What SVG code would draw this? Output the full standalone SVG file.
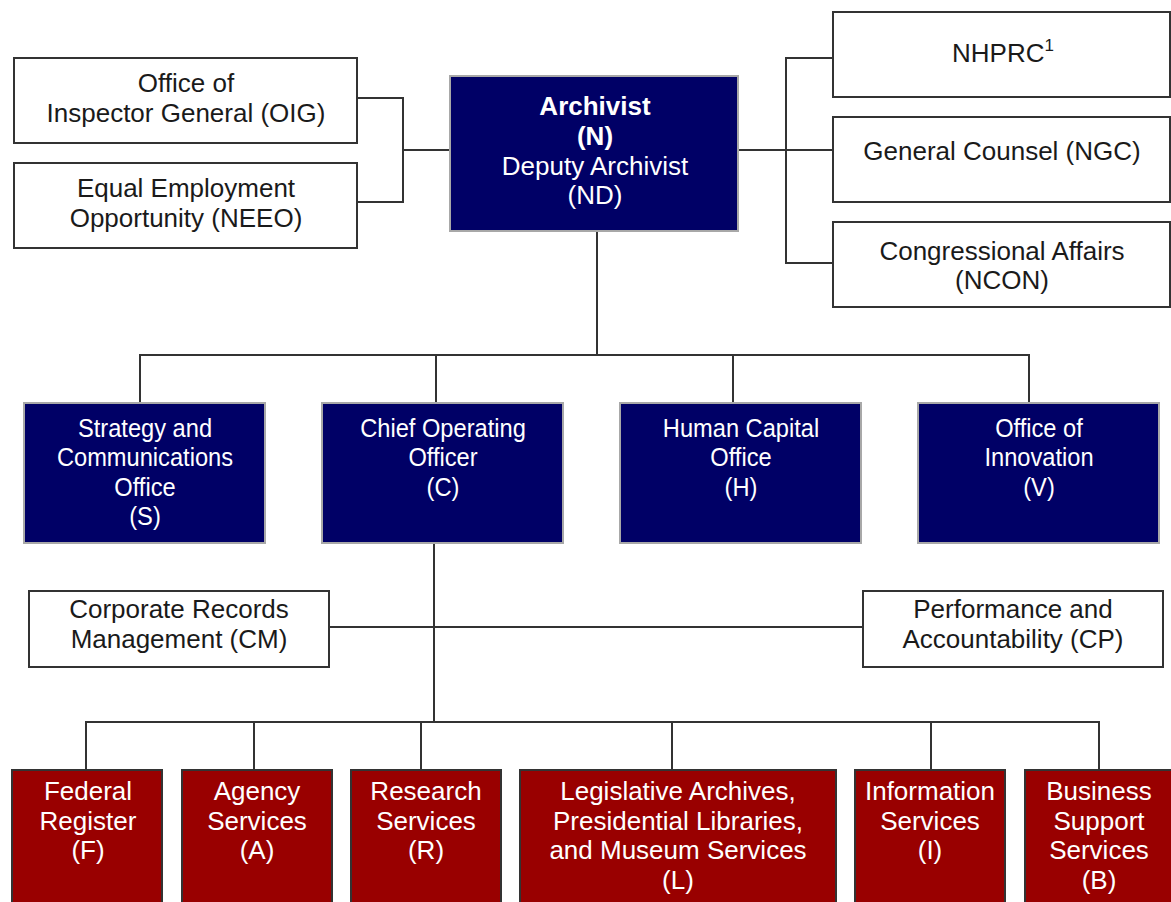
<svg xmlns="http://www.w3.org/2000/svg" width="1171" height="902" viewBox="0 0 1171 902">
<style>
.w{fill:#fff;stroke:#333;stroke-width:2}
.n{fill:#000066;stroke:#a8a8a8;stroke-width:2}
.r{fill:#990000;stroke:#333;stroke-width:2}
.c{fill:none;stroke:#333;stroke-width:2}
text{font-family:"Liberation Sans",Arial,sans-serif;font-size:26px;text-anchor:middle}
.tb{fill:#1a1a1a}
.tw{fill:#fff}
.b{font-weight:bold}
</style>
<rect width="1171" height="902" fill="#fff"/>
<g id="connectors">
<polyline class="c" points="357,98 403,98 403,202 357,202"/>
<line class="c" x1="403" y1="150" x2="450" y2="150"/>
<line class="c" x1="738" y1="150" x2="833" y2="150"/>
<polyline class="c" points="833,58 786,58 786,263 833,263"/>
<line class="c" x1="597" y1="231" x2="597" y2="355"/>
<polyline class="c" points="140,403 140,355 1029,355 1029,403"/>
<line class="c" x1="436" y1="355" x2="436" y2="403"/>
<line class="c" x1="733" y1="355" x2="733" y2="403"/>
<line class="c" x1="434" y1="543" x2="434" y2="722"/>
<line class="c" x1="329" y1="627" x2="863" y2="627"/>
<polyline class="c" points="86,770 86,722 1099,722 1099,770"/>
<line class="c" x1="254" y1="722" x2="254" y2="770"/>
<line class="c" x1="421" y1="722" x2="421" y2="770"/>
<line class="c" x1="672" y1="722" x2="672" y2="770"/>
<line class="c" x1="931" y1="722" x2="931" y2="770"/>
</g>
<g id="oig">
<rect class="w" x="14" y="58" width="343" height="85"/>
<text class="tb" x="186" y="92">Office of</text>
<text class="tb" x="186" y="122">Inspector General (OIG)</text>
</g>
<g id="neeo">
<rect class="w" x="14" y="163" width="343" height="85"/>
<text class="tb" x="186" y="197">Equal Employment</text>
<text class="tb" x="186" y="227">Opportunity (NEEO)</text>
</g>
<g id="archivist">
<rect class="n" x="450" y="76" width="288" height="155"/>
<text class="tw b" x="595" y="115">Archivist</text>
<text class="tw b" x="595" y="145">(N)</text>
<text class="tw" x="595" y="175">Deputy Archivist</text>
<text class="tw" x="595" y="204">(ND)</text>
</g>
<g id="nhprc">
<rect class="w" x="833" y="12" width="337" height="85"/>
<text class="tb" x="1003" y="62">NHPRC<tspan font-size="17" dy="-11">1</tspan></text>
</g>
<g id="ngc">
<rect class="w" x="833" y="117" width="337" height="85"/>
<text class="tb" x="1002" y="160">General Counsel (NGC)</text>
</g>
<g id="ncon">
<rect class="w" x="833" y="222" width="337" height="85"/>
<text class="tb" x="1002" y="260">Congressional Affairs</text>
<text class="tb" x="1002" y="289">(NCON)</text>
</g>
<g id="strategy">
<rect class="n" x="24" y="403" width="241" height="140"/>
<g transform="translate(145,0) scale(0.91,1)">
<text class="tw" x="0" y="437">Strategy and</text>
<text class="tw" x="0" y="466.5">Communications</text>
<text class="tw" x="0" y="496">Office</text>
<text class="tw" x="0" y="525.5">(S)</text>
</g>
</g>
<g id="coo">
<rect class="n" x="322" y="403" width="241" height="140"/>
<g transform="translate(443,0) scale(0.91,1)">
<text class="tw" x="0" y="437">Chief Operating</text>
<text class="tw" x="0" y="466.5">Officer</text>
<text class="tw" x="0" y="496">(C)</text>
</g>
</g>
<g id="hc">
<rect class="n" x="620" y="403" width="241" height="140"/>
<g transform="translate(741,0) scale(0.91,1)">
<text class="tw" x="0" y="437">Human Capital</text>
<text class="tw" x="0" y="466.5">Office</text>
<text class="tw" x="0" y="496">(H)</text>
</g>
</g>
<g id="innovation">
<rect class="n" x="918" y="403" width="241" height="140"/>
<g transform="translate(1039,0) scale(0.91,1)">
<text class="tw" x="0" y="437">Office of</text>
<text class="tw" x="0" y="466.5">Innovation</text>
<text class="tw" x="0" y="496">(V)</text>
</g>
</g>
<g id="cm">
<rect class="w" x="29" y="591" width="300" height="76"/>
<text class="tb" x="179" y="618">Corporate Records</text>
<text class="tb" x="179" y="647.5">Management (CM)</text>
</g>
<g id="cp">
<rect class="w" x="863" y="591" width="300" height="76"/>
<text class="tb" x="1013" y="618">Performance and</text>
<text class="tb" x="1013" y="648">Accountability (CP)</text>
</g>
<g id="federal">
<rect class="r" x="12" y="770" width="150" height="150"/>
<text class="tw" x="88" y="800">Federal</text>
<text class="tw" x="88" y="829.5">Register</text>
<text class="tw" x="88" y="859">(F)</text>
</g>
<g id="agency">
<rect class="r" x="182" y="770" width="150" height="150"/>
<text class="tw" x="257" y="800">Agency</text>
<text class="tw" x="257" y="829.5">Services</text>
<text class="tw" x="257" y="859">(A)</text>
</g>
<g id="research">
<rect class="r" x="351" y="770" width="150" height="150"/>
<text class="tw" x="426" y="800">Research</text>
<text class="tw" x="426" y="829.5">Services</text>
<text class="tw" x="426" y="859">(R)</text>
</g>
<g id="legislative">
<rect class="r" x="520" y="770" width="316" height="150"/>
<text class="tw" x="678" y="800">Legislative Archives,</text>
<text class="tw" x="678" y="829.5">Presidential Libraries,</text>
<text class="tw" x="678" y="859">and Museum Services</text>
<text class="tw" x="678" y="888.5">(L)</text>
</g>
<g id="information">
<rect class="r" x="855" y="770" width="150" height="150"/>
<text class="tw" x="930" y="800">Information</text>
<text class="tw" x="930" y="829.5">Services</text>
<text class="tw" x="930" y="859">(I)</text>
</g>
<g id="business">
<rect class="r" x="1025" y="770" width="150" height="150"/>
<text class="tw" x="1099" y="800">Business</text>
<text class="tw" x="1099" y="829.5">Support</text>
<text class="tw" x="1099" y="859">Services</text>
<text class="tw" x="1099" y="888.5">(B)</text>
</g>
</svg>
